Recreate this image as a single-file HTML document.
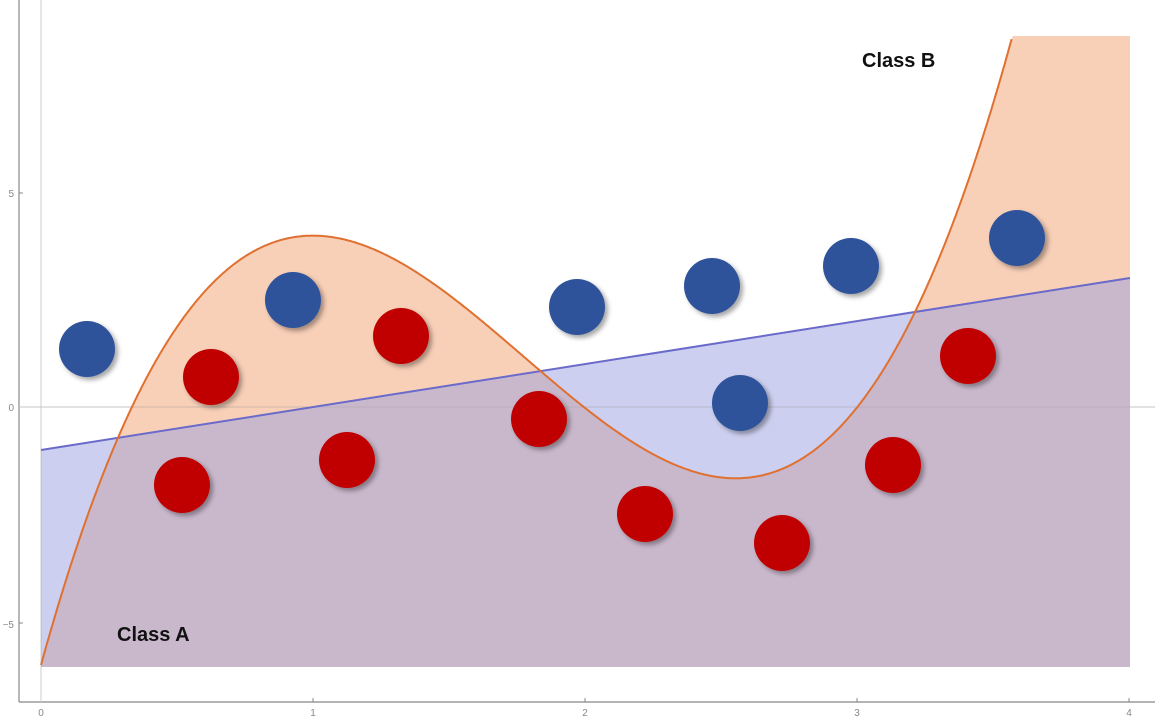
<!DOCTYPE html>
<html><head><meta charset="utf-8"><style>
html,body{margin:0;padding:0;background:#fff;}
svg{display:block;font-family:"Liberation Sans",sans-serif;}
</style></head><body>
<svg id="s" width="1155" height="722" viewBox="0 0 1155 722">
<defs>
<filter id="sh" x="-50%" y="-50%" width="200%" height="200%"><feDropShadow dx="3" dy="3" stdDeviation="2.5" flood-color="#000" flood-opacity="0.35"/></filter>
<clipPath id="cp"><rect x="41" y="36" width="1089" height="631"/></clipPath>
</defs>
<line x1="19" y1="0" x2="19" y2="702" stroke="#888" stroke-width="1.2"/>
<line x1="19" y1="702" x2="1155" y2="702" stroke="#888" stroke-width="1.2"/>
<line x1="41" y1="0" x2="41" y2="702" stroke="#ccc" stroke-width="1"/>
<line x1="19" y1="407" x2="1155" y2="407" stroke="#ccc" stroke-width="1"/>
<g id="fills" clip-path="url(#cp)"></g>
<line x1="19" y1="407" x2="1155" y2="407" stroke="#bbb" stroke-width="0.8" opacity="0.6"/>
<g id="curves"></g>
<g fill="#888" font-size="10">
<text x="41" y="716" text-anchor="middle">0</text>
<text x="313" y="716" text-anchor="middle">1</text>
<text x="585" y="716" text-anchor="middle">2</text>
<text x="857" y="716" text-anchor="middle">3</text>
<text x="1129" y="716" text-anchor="middle">4</text>
<text x="14" y="197" text-anchor="end">5</text>
<text x="14" y="411" text-anchor="end">0</text>
<text x="14" y="628" text-anchor="end">−5</text>
</g>
<g stroke="#888" stroke-width="1">
<line x1="313" y1="702" x2="313" y2="698"/><line x1="585" y1="702" x2="585" y2="698"/><line x1="857" y1="702" x2="857" y2="698"/><line x1="1129" y1="702" x2="1129" y2="698"/>
<line x1="19" y1="193" x2="23" y2="193"/><line x1="19" y1="623" x2="23" y2="623"/>
</g>
<g filter="url(#sh)">
<g fill="#2f529a">
<circle cx="87" cy="349" r="28"/><circle cx="293" cy="300" r="28"/><circle cx="577" cy="307" r="28"/><circle cx="712" cy="286" r="28"/><circle cx="851" cy="266" r="28"/><circle cx="740" cy="403" r="28"/><circle cx="1017" cy="238" r="28"/>
</g>
<g fill="#c00000">
<circle cx="211" cy="377" r="28"/><circle cx="182" cy="485" r="28"/><circle cx="401" cy="336" r="28"/><circle cx="347" cy="460" r="28"/><circle cx="539" cy="419" r="28"/><circle cx="645" cy="514" r="28"/><circle cx="782" cy="543" r="28"/><circle cx="893" cy="465" r="28"/><circle cx="968" cy="356" r="28"/>
</g>
</g>
<text x="117" y="641" font-size="20" font-weight="bold" fill="#111">Class A</text>
<text x="862" y="67" font-size="20" font-weight="bold" fill="#111">Class B</text>
</svg>
<script>
(function(){
var X=function(x){return 41+x*272.25},Y=function(y){return 407-y*43};
var N=5;
var rows=[],rhs=[];
function val(x,y,w){var r=[];for(var k=1;k<=N;k++)r.push(w*Math.pow(x,k));rows.push(r);rhs.push(w*(y+6));}
function der(x,w){var r=[];for(var k=1;k<=N;k++)r.push(w*k*Math.pow(x,k-1));rows.push(r);rhs.push(0);}
val(0.28,-0.65,1.5);val(1.0,3.98,3);der(1.0,3);val(1.836,0.836,1.5);val(2.55,-1.65,3);der(2.55,3);val(3.22,2.22,1.5);val(3.567,8.63,1.5);
var A=[],b=[];
for(var i=0;i<N;i++){A.push([]);var s=0;for(var j=0;j<N;j++){var t=0;for(var r=0;r<rows.length;r++)t+=rows[r][i]*rows[r][j];A[i].push(t);}for(var r=0;r<rows.length;r++)s+=rows[r][i]*rhs[r];b.push(s);}
for(var i=0;i<N;i++){var p=i;for(var r=i+1;r<N;r++)if(Math.abs(A[r][i])>Math.abs(A[p][i]))p=r;var tA=A[i];A[i]=A[p];A[p]=tA;var tb=b[i];b[i]=b[p];b[p]=tb;
for(var r=i+1;r<N;r++){var m=A[r][i]/A[i][i];for(var c=i;c<N;c++)A[r][c]-=m*A[i][c];b[r]-=m*b[i];}}
var co=new Array(N);for(var i=N-1;i>=0;i--){var s=b[i];for(var c=i+1;c<N;c++)s-=A[i][c]*co[c];co[i]=s/A[i][i];}
function f(x){var s=-6;for(var k=1;k<=N;k++)s+=co[k-1]*Math.pow(x,k);return s;}
var yTop=36,yBot=667;
var pts=[],stroke=[];
for(var i=0;i<=800;i++){var x=4*i/800;var py=Y(f(x));var c=Math.max(py,yTop);pts.push(X(x).toFixed(1)+","+c.toFixed(1));if(py>=yTop-1)stroke.push(X(x).toFixed(1)+","+py.toFixed(1));}
var ns="http://www.w3.org/2000/svg";
function el(t,at,p){var e=document.createElementNS(ns,t);for(var k in at)e.setAttribute(k,at[k]);p.appendChild(e);return e;}
var F=document.getElementById("fills"),C=document.getElementById("curves");
el("polygon",{points:X(0)+","+yBot+" "+pts.join(" ")+" "+X(4)+","+yBot,fill:"#f2a070","fill-opacity":"0.5"},F);
el("polygon",{points:X(0)+","+yBot+" "+X(0)+","+Y(-1)+" "+X(4)+","+Y(3)+" "+X(4)+","+yBot,fill:"#9aa0e0","fill-opacity":"0.5"},F);
el("line",{x1:X(0),y1:Y(-1),x2:X(4),y2:Y(3),stroke:"#6a6acb","stroke-width":2},C);
el("polyline",{points:stroke.join(" "),fill:"none",stroke:"#e07030","stroke-width":2},C);
})();
</script>
</body></html>
